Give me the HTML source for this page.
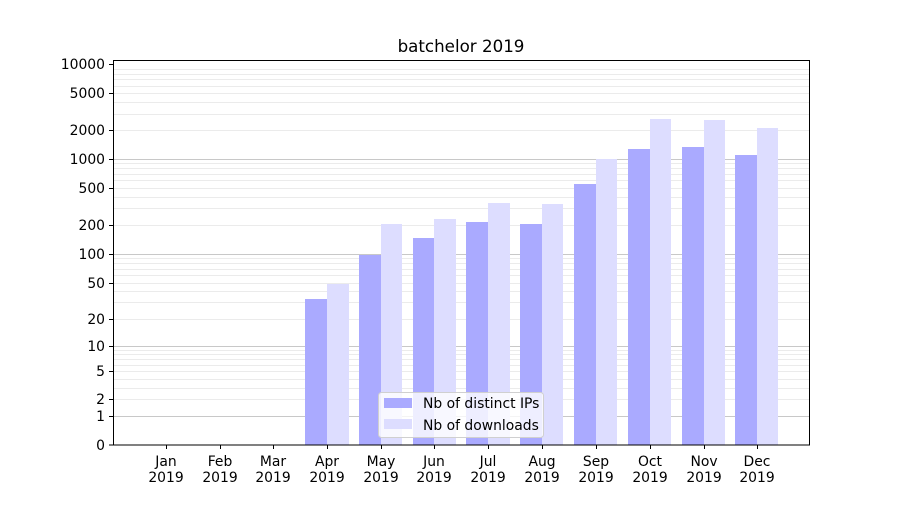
<!DOCTYPE html>
<html><head><meta charset="utf-8"><style>
body{margin:0;background:#fff;}
svg text{font-family:"DejaVu Sans","Liberation Sans",sans-serif;font-size:13.9px;fill:#000;}
</style></head><body>
<svg width="900" height="500" xmlns="http://www.w3.org/2000/svg">
<rect width="900" height="500" fill="#fff"/>
<g stroke="#ebebeb" stroke-width="1">
<line x1="113" x2="810" y1="399.5" y2="399.5"/><line x1="113" x2="810" y1="388.5" y2="388.5"/><line x1="113" x2="810" y1="379.5" y2="379.5"/><line x1="113" x2="810" y1="371.5" y2="371.5"/><line x1="113" x2="810" y1="365.5" y2="365.5"/><line x1="113" x2="810" y1="359.5" y2="359.5"/><line x1="113" x2="810" y1="354.5" y2="354.5"/><line x1="113" x2="810" y1="350.5" y2="350.5"/>
<line x1="113" x2="810" y1="319.5" y2="319.5"/><line x1="113" x2="810" y1="302.5" y2="302.5"/><line x1="113" x2="810" y1="291.5" y2="291.5"/><line x1="113" x2="810" y1="283.5" y2="283.5"/><line x1="113" x2="810" y1="275.5" y2="275.5"/><line x1="113" x2="810" y1="269.5" y2="269.5"/><line x1="113" x2="810" y1="263.5" y2="263.5"/><line x1="113" x2="810" y1="258.5" y2="258.5"/>
<line x1="113" x2="810" y1="225.5" y2="225.5"/><line x1="113" x2="810" y1="208.5" y2="208.5"/><line x1="113" x2="810" y1="197.5" y2="197.5"/><line x1="113" x2="810" y1="188.5" y2="188.5"/><line x1="113" x2="810" y1="180.5" y2="180.5"/><line x1="113" x2="810" y1="174.5" y2="174.5"/><line x1="113" x2="810" y1="168.5" y2="168.5"/><line x1="113" x2="810" y1="163.5" y2="163.5"/>
<line x1="113" x2="810" y1="130.5" y2="130.5"/><line x1="113" x2="810" y1="114.5" y2="114.5"/><line x1="113" x2="810" y1="102.5" y2="102.5"/><line x1="113" x2="810" y1="93.5" y2="93.5"/><line x1="113" x2="810" y1="86.5" y2="86.5"/><line x1="113" x2="810" y1="79.5" y2="79.5"/><line x1="113" x2="810" y1="74.5" y2="74.5"/><line x1="113" x2="810" y1="69.5" y2="69.5"/>
</g>
<g stroke="#c8c8c8" stroke-width="1">
<line x1="113" x2="810" y1="416.5" y2="416.5"/><line x1="113" x2="810" y1="346.5" y2="346.5"/><line x1="113" x2="810" y1="254.5" y2="254.5"/><line x1="113" x2="810" y1="159.5" y2="159.5"/>
</g>
<g fill="#aaaaff">
<rect x="305" y="299" width="22" height="146"/><rect x="359" y="255" width="22" height="190"/><rect x="413" y="238" width="21" height="207"/><rect x="466" y="222" width="22" height="223"/><rect x="520" y="224" width="22" height="221"/><rect x="574" y="184" width="22" height="261"/><rect x="628" y="149" width="22" height="296"/><rect x="682" y="147" width="22" height="298"/><rect x="735" y="155" width="22" height="290"/>
</g>
<g fill="#ddddff">
<rect x="327" y="284" width="22" height="161"/><rect x="381" y="224" width="21" height="221"/><rect x="434" y="219" width="22" height="226"/><rect x="488" y="203" width="22" height="242"/><rect x="542" y="204" width="21" height="241"/><rect x="596" y="159" width="21" height="286"/><rect x="650" y="119" width="21" height="326"/><rect x="704" y="120" width="21" height="325"/><rect x="757" y="128" width="21" height="317"/>
</g>
<rect x="113.5" y="60.5" width="696" height="384.5" fill="none" stroke="#000" stroke-width="1"/>
<g stroke="#000">
<line x1="109" x2="113" y1="445" y2="445"/><line x1="109" x2="113" y1="416.5" y2="416.5"/><line x1="109" x2="113" y1="399.5" y2="399.5"/><line x1="109" x2="113" y1="371.5" y2="371.5"/><line x1="109" x2="113" y1="346.5" y2="346.5"/><line x1="109" x2="113" y1="319.5" y2="319.5"/><line x1="109" x2="113" y1="283.5" y2="283.5"/><line x1="109" x2="113" y1="254.5" y2="254.5"/><line x1="109" x2="113" y1="225.5" y2="225.5"/><line x1="109" x2="113" y1="188.5" y2="188.5"/><line x1="109" x2="113" y1="159.5" y2="159.5"/><line x1="109" x2="113" y1="130.5" y2="130.5"/><line x1="109" x2="113" y1="93.5" y2="93.5"/><line x1="109" x2="113" y1="64.5" y2="64.5"/>
<line x1="166.5" x2="166.5" y1="445" y2="449"/><line x1="220.5" x2="220.5" y1="445" y2="449"/><line x1="273.5" x2="273.5" y1="445" y2="449"/><line x1="327.5" x2="327.5" y1="445" y2="449"/><line x1="381.5" x2="381.5" y1="445" y2="449"/><line x1="434.5" x2="434.5" y1="445" y2="449"/><line x1="488.5" x2="488.5" y1="445" y2="449"/><line x1="542.5" x2="542.5" y1="445" y2="449"/><line x1="596.5" x2="596.5" y1="445" y2="449"/><line x1="650.5" x2="650.5" y1="445" y2="449"/><line x1="704.5" x2="704.5" y1="445" y2="449"/><line x1="757.5" x2="757.5" y1="445" y2="449"/>
</g>
<g text-anchor="end">
<text x="105" y="450">0</text><text x="105" y="421">1</text><text x="105" y="404">2</text><text x="105" y="376">5</text><text x="105" y="351">10</text><text x="105" y="324">20</text><text x="105" y="288">50</text><text x="105" y="259">100</text><text x="105" y="230">200</text><text x="105" y="193">500</text><text x="105" y="164">1000</text><text x="105" y="135">2000</text><text x="105" y="98">5000</text><text x="105" y="69">10000</text>
</g>
<g text-anchor="middle">
<text x="166" y="466">Jan</text><text x="166" y="482">2019</text>
<text x="220" y="466">Feb</text><text x="220" y="482">2019</text>
<text x="273" y="466">Mar</text><text x="273" y="482">2019</text>
<text x="327" y="466">Apr</text><text x="327" y="482">2019</text>
<text x="381" y="466">May</text><text x="381" y="482">2019</text>
<text x="434" y="466">Jun</text><text x="434" y="482">2019</text>
<text x="488" y="466">Jul</text><text x="488" y="482">2019</text>
<text x="542" y="466">Aug</text><text x="542" y="482">2019</text>
<text x="596" y="466">Sep</text><text x="596" y="482">2019</text>
<text x="650" y="466">Oct</text><text x="650" y="482">2019</text>
<text x="704" y="466">Nov</text><text x="704" y="482">2019</text>
<text x="757" y="466">Dec</text><text x="757" y="482">2019</text>
<text x="461" y="52" style="font-size:16.7px">batchelor 2019</text>
</g>
<rect x="378.5" y="392.5" width="165" height="45" rx="3" fill="#fff" fill-opacity="0.8" stroke="#d0d0d0"/>
<rect x="384" y="398" width="28" height="10" fill="#aaaaff"/>
<rect x="384" y="419" width="28" height="10" fill="#ddddff"/>
<text x="423" y="408">Nb of distinct IPs</text>
<text x="423" y="430">Nb of downloads</text>
</svg>
</body></html>
